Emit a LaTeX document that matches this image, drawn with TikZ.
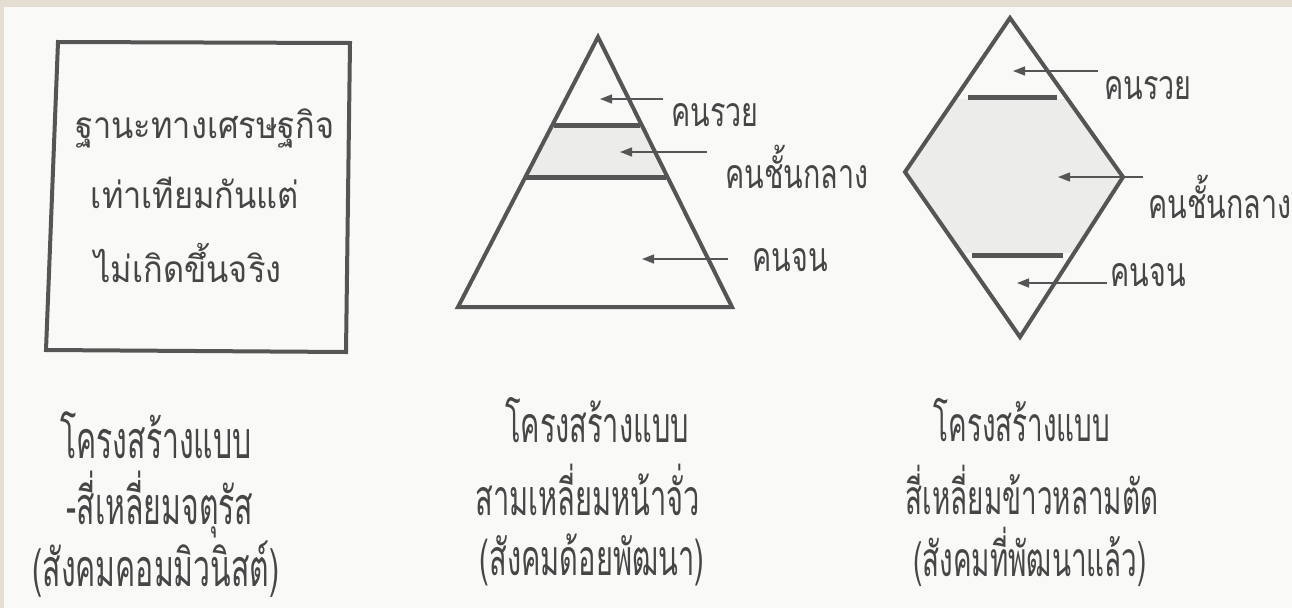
\documentclass[tikz,border=0pt]{standalone}
\usepackage{fontspec}
\usetikzlibrary{arrows.meta}
\newfontfamily\thaibox[Script=Thai,FakeStretch=0.88]{Loma}
\newfontfamily\thailbl[Script=Thai,FakeStretch=0.70]{Loma}
\newfontfamily\thaicap[Script=Thai,FakeStretch=0.58]{Loma}
\definecolor{paper}{RGB}{249,249,247}
\definecolor{beige}{RGB}{227,221,210}
\definecolor{ink}{RGB}{85,85,85}
\definecolor{txt}{RGB}{70,70,70}
\definecolor{band}{RGB}{236,237,235}
\tikzset{
  frame/.style={draw=ink, line width=4pt, line join=miter},
  bar/.style={draw=ink, line width=5pt},
  pointer/.style={draw=ink, line width=1.4pt, -{Triangle[length=12pt,width=9pt]}},
  lbl/.style={font=\thailbl\fontsize{41}{41}\selectfont, text=txt, inner sep=0pt},
  boxtxt/.style={font=\thaibox\fontsize{37}{37}\selectfont, text=txt, inner sep=0pt},
  captxt/.style={font=\thaicap\fontsize{50}{50}\selectfont, text=txt, inner sep=0pt},
  captxtc/.style={font=\thaicap\fontsize{48}{48}\selectfont, text=txt, inner sep=0pt},
  captxtbig/.style={font=\thaicap\fontsize{52}{52}\selectfont, text=txt, inner sep=0pt}
}
\begin{document}
\begin{tikzpicture}[x=1pt,y=-1pt]
\useasboundingbox (0,0) rectangle (1292,608);
\fill[beige] (0,0) rectangle (1292,608);
\fill[paper] (4,7) rectangle (1292,608);
% square
\draw[frame] (58,42) -- (350,43) -- (346,352) -- (46,350) -- cycle;
\node[boxtxt] (b1) at (205,128) {ฐานะทางเศรษฐกิจ};
\node[boxtxt] (b2) at (195,193) {เท่าเทียมกันแต่};
\node[boxtxt] (b3) at (188,263) {ไม่เกิดขึ้นจริง};
% triangle
\fill[band] (552,125) -- (642,125) -- (667,177) -- (525,177) -- cycle;
\draw[frame] (598,37) -- (732,307) -- (458,307) -- cycle;
\draw[bar] (554,125) -- (640,125);
\draw[bar] (526,177) -- (666,177);
\node[lbl] (t1) at (715,115) {คนรวย};
\node[lbl] (t2) at (797,167) {คนชั้นกลาง};
\node[lbl] (t3) at (790,260) {คนจน};
\coordinate (t1s) at (663,99);  \coordinate (t1e) at (600,99);
\coordinate (t2s) at (707,152); \coordinate (t2e) at (620,152);
\coordinate (t3s) at (728,259); \coordinate (t3e) at (642,259);
\draw[pointer] (t1s) -- (t1e);
\draw[pointer] (t2s) -- (t2e);
\draw[pointer] (t3s) -- (t3e);
% diamond
\begin{scope}
\clip (1010,18) -- (1123,177) -- (1020,337) -- (905,172) -- cycle;
\fill[band] (900,99) rectangle (1130,253);
\end{scope}
\draw[frame] (1010,18) -- (1123,177) -- (1020,337) -- (905,172) -- cycle;
\draw[bar] (968,97) -- (1057,97);
\draw[bar] (972,255) -- (1063,255);
\node[lbl] (d1) at (1148,88) {คนรวย};
\node[lbl] (d2) at (1220,197) {คนชั้นกลาง};
\node[lbl] (d3) at (1148,275) {คนจน};
\coordinate (d1s) at (1098,71);  \coordinate (d1e) at (1013,71);
\coordinate (d2s) at (1143,177); \coordinate (d2e) at (1058,177);
\coordinate (d3s) at (1107,283); \coordinate (d3e) at (1017,283);
\draw[pointer] (d1s) -- (d1e);
\draw[pointer] (d2s) -- (d2e);
\draw[pointer] (d3s) -- (d3e);
% captions
\node[captxtbig] (c11) at (156,435) {โครงสร้างแบบ};
\node[captxtbig] (c12) at (160,505) {-สี่เหลี่ยมจตุรัส};
\node[captxtbig] (c13) at (156,569) {(สังคมคอมมิวนิสต์)};
\node[captxt] (c21) at (597,420) {โครงสร้างแบบ};
\node[captxt] (c22) at (588,490) {สามเหลี่ยมหน้าจั่ว};
\node[captxt] (c23) at (592,560) {(สังคมด้อยพัฒนา)};
\node[captxtc] (c31) at (1022,420) {โครงสร้างแบบ};
\node[captxtc] (c32) at (1032,490) {สี่เหลี่ยมข้าวหลามตัด};
\node[captxtc] (c33) at (1030,557) {(สังคมที่พัฒนาแล้ว)};
\end{tikzpicture}
\end{document}
